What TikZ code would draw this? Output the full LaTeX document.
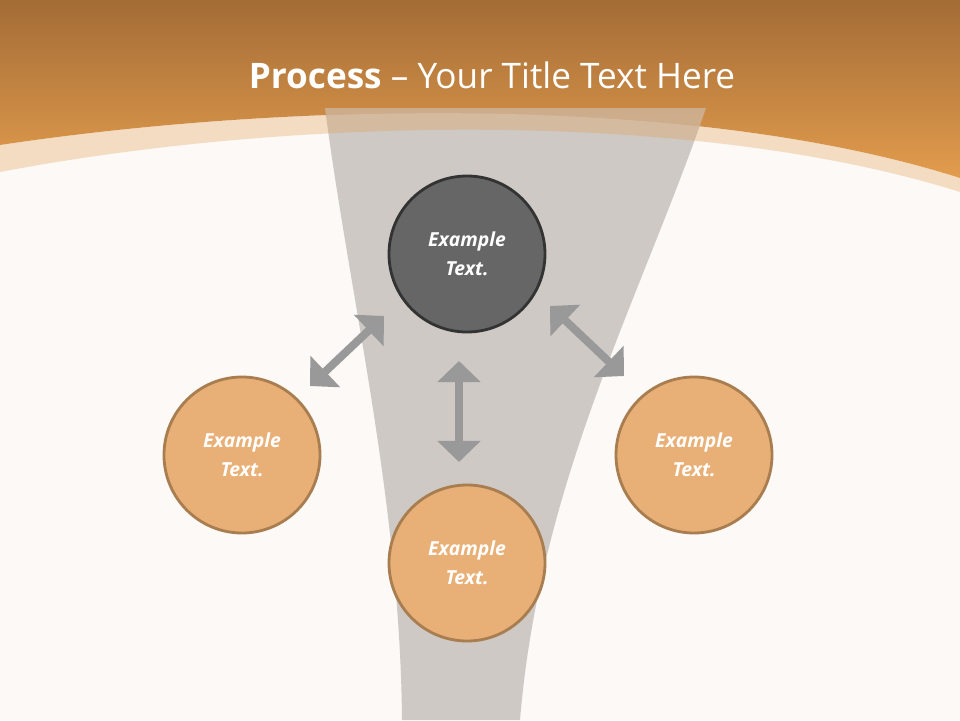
\documentclass[tikz,border=0pt]{standalone}
\usepackage{fontspec}
\setmainfont{Open Sans}
\usetikzlibrary{arrows.meta}
\definecolor{bg}{HTML}{FCF9F6}
\definecolor{topbrown}{HTML}{A36C36}
\definecolor{toporange}{HTML}{E29C4D}
\definecolor{glass}{HTML}{CEC9C5}
\definecolor{darkfill}{HTML}{666666}
\definecolor{darkline}{HTML}{333333}
\definecolor{orfill}{HTML}{E8B077}
\definecolor{orline}{HTML}{A87D50}
\definecolor{arr}{HTML}{999999}
\tikzset{
  bubble/.style={circle,minimum size=156*0.02cm,line width=1.6pt,inner sep=0pt,
    text=white,font=\fontsize{11}{16.5}\selectfont\bfseries\itshape,align=center},
  orb/.style={bubble,fill=orfill,draw=orline},
  dkb/.style={bubble,fill=darkfill,draw=darkline},
  dbl/.style={draw=arr,line width=8*0.567pt,{Triangle[length=12pt,width=24pt]}-{Triangle[length=12pt,width=24pt]}}
}
\begin{document}
\begin{tikzpicture}[x=0.02cm,y=-0.02cm]
\useasboundingbox (0,0) rectangle (960,720);
\fill[bg] (0,0) rectangle (960,720);
\def\glasspath{(325,108) .. controls (350,300) and (400,500) .. (402,720) -- (520,720) .. controls (540,480) and (640,300) .. (706,108) -- cycle}
\fill[glass] \glasspath;
% pale stripe
\fill[toporange,opacity=0.3] (0,145) .. controls (300,100) and (700,95) .. (960,178) -- (960,192) .. controls (700,110) and (300,115) .. (0,172) -- cycle;
% top band
\shade[top color=topbrown,bottom color=toporange] (0,0) -- (960,0) -- (960,178) .. controls (700,95) and (300,100) .. (0,145) -- cycle;
\begin{scope}
\clip (0,0) -- (960,0) -- (960,178) .. controls (700,95) and (300,100) .. (0,145) -- cycle;
\fill[glass,opacity=0.55] \glasspath;
\end{scope}
\node[text=white,font=\fontsize{20}{24}\selectfont] (title) at (492,75) {\textbf{Process} – Your Title Text Here};
% circles
\node[dkb] (top) at (467,254) {Example\\Text.};
\node[orb] (left) at (242,455) {Example\\Text.};
\node[orb] (bottom) at (467,563) {Example\\Text.};
\node[orb] (right) at (694,455) {Example\\Text.};
% arrows
\coordinate (a1) at (310,386); \coordinate (a2) at (384,316);
\coordinate (b1) at (550,306); \coordinate (b2) at (624,376);
\coordinate (c1) at (459,361); \coordinate (c2) at (459,462);
\draw[dbl] (a1) -- (a2);
\draw[dbl] (b1) -- (b2);
\draw[dbl] (c1) -- (c2);
\end{tikzpicture}
\end{document}
